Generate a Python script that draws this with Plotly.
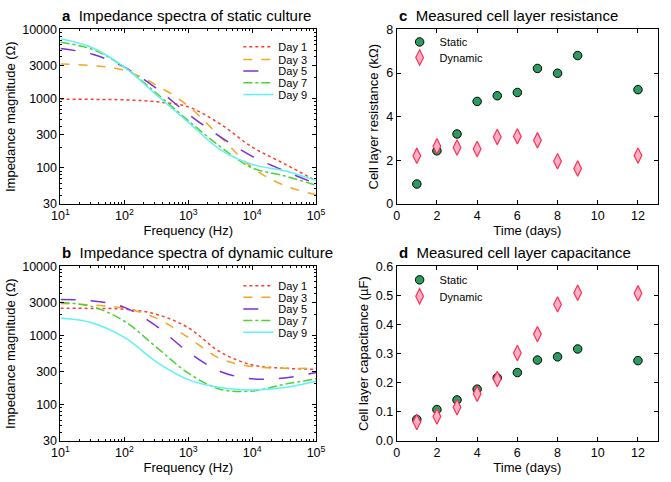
import plotly.graph_objects as go

# ---------------- data ----------------
freq = [10, 31.6, 100, 316, 1000, 3162, 10000, 31623, 100000]
days_labels = ["Day 1", "Day 3", "Day 5", "Day 7", "Day 9"]

static_z = {
    "Day 1": [980, 975, 960, 900, 760, 430, 200, 115, 65],
    "Day 3": [3150, 3000, 2550, 1570, 780, 281, 101, 56, 41],
    "Day 5": [5300, 4370, 2840, 1410, 597, 281, 147, 91, 59],
    "Day 7": [6500, 5130, 2840, 1200, 481, 203, 100, 77, 56],
    "Day 9": [7300, 5420, 2840, 1137, 456, 183, 112, 91, 66],
}
dynamic_z = {
    "Day 1": [2470, 2460, 2400, 2030, 1295, 578, 376, 337, 326],
    "Day 3": [2900, 2760, 2470, 1785, 937, 466, 356, 337, 337],
    "Day 5": [3300, 3160, 2550, 1370, 578, 303, 237, 244, 293],
    "Day 7": [3000, 2610, 1607, 680, 287, 168, 158, 197, 237],
    "Day 9": [1785, 1520, 937, 418, 231, 177, 164, 177, 219],
}

time_days = [1, 2, 3, 4, 5, 6, 7, 8, 9, 12]
res_static = [0.92, 2.44, 3.21, 4.70, 4.96, 5.11, 6.21, 5.99, 6.80, 5.24]
res_dynamic = [2.21, 2.65, 2.59, 2.52, 3.07, 3.10, 2.92, 1.96, 1.63, 2.22]
cap_static = [0.074, 0.108, 0.141, 0.178, 0.217, 0.235, 0.278, 0.289, 0.316, 0.276]
cap_dynamic = [0.065, 0.084, 0.116, 0.162, 0.213, 0.302, 0.367, 0.469, 0.509, 0.507]

freq_ticks = [10, 100, 1000, 10000, 100000]
freq_ticktext = ["10<sup>1</sup>", "10<sup>2</sup>", "10<sup>3</sup>", "10<sup>4</sup>", "10<sup>5</sup>"]
z_ticks = [30, 100, 300, 1000, 3000, 10000]
z_ticktext = ["30", "100", "300", "1000", "3000", "10000"]

# ---------------- styles ----------------
line_styles = {
    "Day 1": dict(color="#ff3b2f", dash="dot", width=1.5),
    "Day 3": dict(color="#f5a623", dash="dash", width=1.5),
    "Day 5": dict(color="#7b2fd6", dash="longdash", width=1.5),
    "Day 7": dict(color="#4cd137", dash="dashdot", width=1.5),
    "Day 9": dict(color="#5ff2f2", dash="solid", width=1.5),
}
FONT = "Liberation Sans, Arial, sans-serif"
W, H = 671, 482

def px_x(p):
    return p / W

def px_y(p):
    return 1 - p / H

fig = go.Figure()
legend_defs = {}
leg_common = dict(bgcolor="rgba(0,0,0,0)", borderwidth=0, font=dict(family=FONT, size=11, color="black"),
                  xanchor="left", yanchor="middle", itemwidth=30)

def new_legend(xp, yp):
    key = "legend" if not legend_defs else f"legend{len(legend_defs) + 1}"
    legend_defs[key] = dict(x=px_x(xp), y=px_y(yp), **leg_common)
    return key

# legend entry centres (pixels)
leg_a_y = [41, 54, 66, 78, 90]
leg_b_y = [287, 299, 311, 323, 335]

for name, ly in zip(days_labels, leg_a_y):
    fig.add_trace(go.Scatter(x=freq, y=static_z[name], mode="lines", name=name,
                             line=dict(shape="spline", smoothing=1.0, **line_styles[name]),
                             xaxis="x", yaxis="y", legend=new_legend(236, ly)))
for name, ly in zip(days_labels, leg_b_y):
    fig.add_trace(go.Scatter(x=freq, y=dynamic_z[name], mode="lines", name=name,
                             line=dict(shape="spline", smoothing=1.0, **line_styles[name]),
                             xaxis="x2", yaxis="y2", legend=new_legend(236, ly)))

static_marker = dict(symbol="circle", size=8.5, color="#2a9c5e", line=dict(color="black", width=1))
dyn_marker = dict(symbol="diamond-tall", size=11, color="#ffb0c8", line=dict(color="#ff3050", width=1.2))

fig.add_trace(go.Scatter(x=time_days, y=res_static, mode="markers", name="Static",
                         marker=static_marker, xaxis="x3", yaxis="y3", legend=new_legend(402, 36)))
fig.add_trace(go.Scatter(x=time_days, y=res_dynamic, mode="markers", name="Dynamic",
                         marker=dyn_marker, xaxis="x3", yaxis="y3", legend=new_legend(402, 52)))
fig.add_trace(go.Scatter(x=time_days, y=cap_static, mode="markers", name="Static",
                         marker=static_marker, xaxis="x4", yaxis="y4", legend=new_legend(402, 281)))
fig.add_trace(go.Scatter(x=time_days, y=cap_dynamic, mode="markers", name="Dynamic",
                         marker=dyn_marker, xaxis="x4", yaxis="y4", legend=new_legend(402, 298)))

common = dict(showline=True, linecolor="black", linewidth=1, mirror="ticks", ticks="inside",
              ticklen=4, tickcolor="black", showgrid=False, zeroline=False,
              tickfont=dict(family=FONT, size=12.5, color="black"))
title_font = dict(family=FONT, size=13, color="black")

dom_ax_left = [px_x(53), px_x(316)]
dom_cx = [px_x(399), px_x(668)]
dom_top = [px_y(203), px_y(23)]
dom_bot = [px_y(447), px_y(267)]

logx = dict(type="log", range=[1, 5], tickmode="array", tickvals=freq_ticks, ticktext=freq_ticktext,
            minor=dict(ticks="inside", ticklen=2, tickcolor="black", dtick="D1"),
            title=dict(text="Frequency (Hz)", font=title_font, standoff=1), **common)
logy = dict(type="log", range=[1.4771, 4], tickmode="array", tickvals=z_ticks, ticktext=z_ticktext,
            minor=dict(ticks="inside", ticklen=2, tickcolor="black", dtick="D1"),
            title=dict(text="Impedance magnitude (Ω)", font=title_font, standoff=3), **common)

linx = dict(range=[0, 13], tickmode="array", tickvals=[0, 2, 4, 6, 8, 10, 12],
            title=dict(text="Time (days)", font=title_font, standoff=1), **common)

fig.update_layout(
    width=W, height=H, margin=dict(l=0, r=0, t=0, b=0),
    paper_bgcolor="white", plot_bgcolor="white",
    font=dict(family=FONT, color="black"),
    xaxis=dict(domain=dom_ax_left, anchor="y", **logx),
    yaxis=dict(domain=dom_top, anchor="x", **logy),
    xaxis2=dict(domain=dom_ax_left, anchor="y2", **logx),
    yaxis2=dict(domain=dom_bot, anchor="x2", **logy),
    xaxis3=dict(domain=dom_cx, anchor="y3", **linx),
    yaxis3=dict(domain=dom_top, anchor="x3", range=[0, 8], tickvals=[0, 2, 4, 6, 8],
                title=dict(text="Cell layer resistance (kΩ)", font=title_font, standoff=4), **common),
    xaxis4=dict(domain=dom_cx, anchor="y4", **linx),
    yaxis4=dict(domain=dom_bot, anchor="x4", range=[0, 0.6], tickvals=[0, 0.1, 0.2, 0.3, 0.4, 0.5, 0.6],
                tickformat=".1f",
                title=dict(text="Cell layer capacitance (µF)", font=title_font, standoff=4), **common),
    showlegend=True,
    **legend_defs,
)

titles = [
    (53, 9, "a", "Impedance spectra of static culture"),
    (53, 253, "b", "Impedance spectra of dynamic culture"),
    (399, 9, "c", "Measured cell layer resistance"),
    (399, 253, "d", "Measured cell layer capacitance"),
]
for x0, y0, letter, txt in titles:
    fig.add_annotation(xref="paper", yref="paper", x=px_x(x0), y=px_y(y0), xanchor="left", yanchor="middle",
                       showarrow=False,
                       text=f"<b>{letter}</b>&nbsp;&nbsp;{txt}",
                       font=dict(family=FONT, size=15, color="black"))

fig.write_html("out.html")
